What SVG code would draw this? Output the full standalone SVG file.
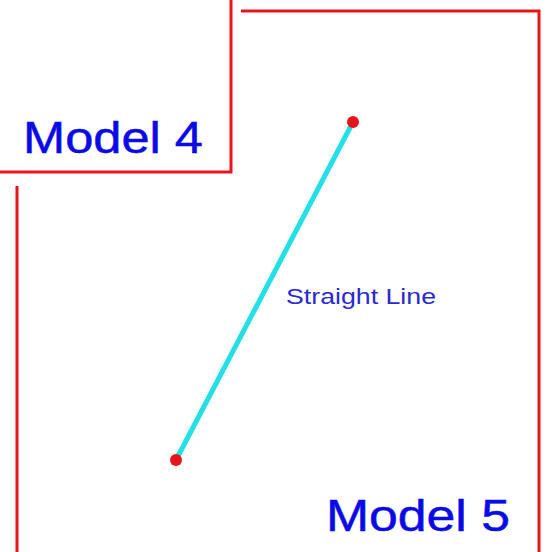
<svg xmlns="http://www.w3.org/2000/svg" width="547" height="552" viewBox="0 0 547 552">
<style>
.frame{fill:none;stroke:#e8141c;stroke-width:3}
.big{font-family:"Liberation Sans",Arial,sans-serif;font-size:44px;fill:#0a0ae6;stroke:#0a0ae6;stroke-width:0.5}
.lbl{font-family:"Liberation Sans",Arial,sans-serif;font-size:22px;fill:#2a2ad0}
.pt{fill:#e8141c}
</style>
<rect width="547" height="552" fill="#fff"/>
<g id="model4">
<polyline class="frame" points="-5,172 231,172 231,-5"/>
<text class="big" x="23" y="153" textLength="180" lengthAdjust="spacingAndGlyphs">Model 4</text>
</g>
<g id="model5">
<polyline class="frame" points="17,186 17,560"/>
<polyline class="frame" points="241,11 539,11 539,560"/>
<text class="big" x="326" y="531" textLength="184" lengthAdjust="spacingAndGlyphs">Model 5</text>
</g>
<g id="connectors">
<line x1="353" y1="122" x2="176" y2="460" stroke="#22e0e6" stroke-width="5"/>
<circle class="pt" cx="353" cy="122" r="6"/>
<circle class="pt" cx="176" cy="460" r="6"/>
<text class="lbl" x="286" y="304" textLength="150" lengthAdjust="spacingAndGlyphs">Straight Line</text>
</g>
</svg>
